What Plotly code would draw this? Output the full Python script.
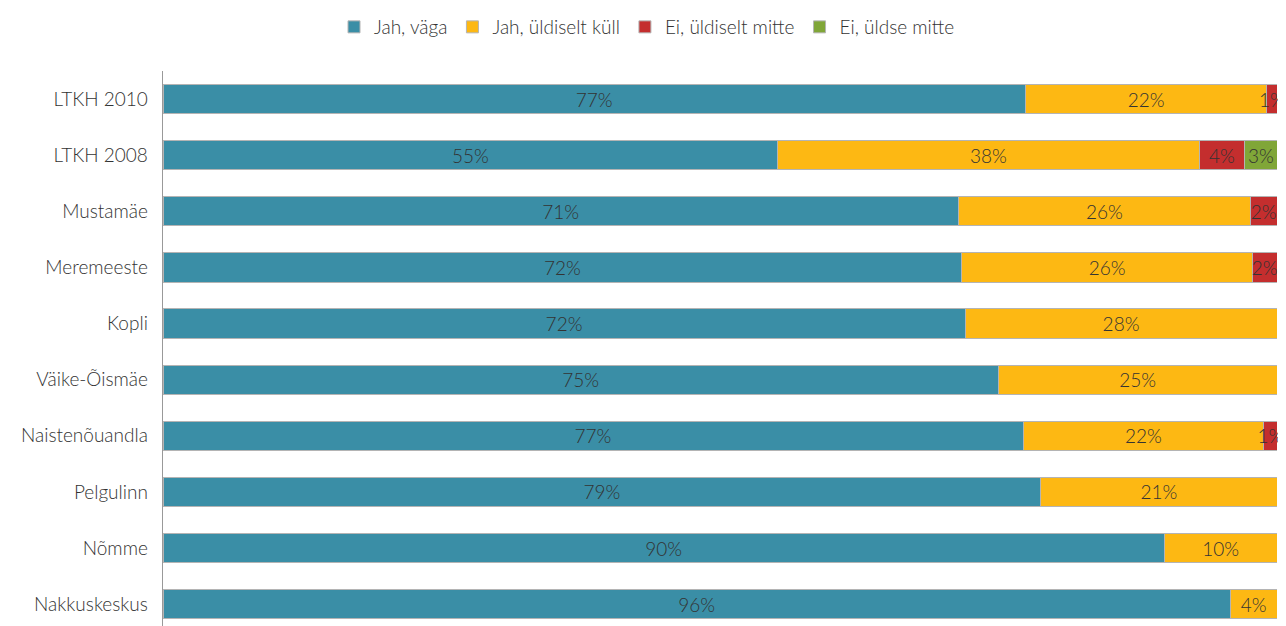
import plotly.graph_objects as go

CATEGORIES = [
    "LTKH 2010", "LTKH 2008", "Mustamäe", "Meremeeste", "Kopli",
    "Väike-Õismäe", "Naistenõuandla", "Pelgulinn", "Nõmme", "Nakkuskeskus",
]
JAH_VAGA = [0.774, 0.552, 0.714, 0.717, 0.720, 0.750, 0.772, 0.788, 0.899, 0.958]
JAH_ULDISELT = [0.217, 0.378, 0.262, 0.261, 0.280, 0.250, 0.216, 0.212, 0.101, 0.042]
EI_ULDISELT = [0.009, 0.041, 0.024, 0.022, None, None, 0.012, None, None, None]
EI_ULDSE = [None, 0.029, None, None, None, None, None, None, None, None]

SERIES = [
    ("Jah, väga", JAH_VAGA, "#3a8ea6"),
    ("Jah, üldiselt küll", JAH_ULDISELT, "#fdb813"),
    ("Ei, üldiselt mitte", EI_ULDISELT, "#c42e2e"),
    ("Ei, üldse mitte", EI_ULDSE, "#80a638"),
]

FONT = "Lato"
TEXT_COLOR = "#333333"

fig = go.Figure()
for name, vals, color in SERIES:
    fig.add_trace(
        go.Bar(
            y=CATEGORIES,
            x=vals,
            name=name,
            orientation="h",
            marker=dict(color=color, line=dict(color="#b4b4b4", width=1)),
            texttemplate="%{x:.0%}",
            textposition="inside",
            insidetextanchor="middle",
            textangle=0,
            constraintext="none",
            cliponaxis=False,
            textfont=dict(family=FONT, size=19, color=TEXT_COLOR, weight=300),
            hoverinfo="skip",
        )
    )

# page has an 8px body margin, so the figure is offset by 8px
fig.update_layout(
    barmode="stack",
    bargap=0.48,
    width=1278,
    height=618,
    margin=dict(l=155, r=9, t=63, b=0),
    plot_bgcolor="white",
    paper_bgcolor="white",
    font=dict(family=FONT, size=19, color=TEXT_COLOR, weight=300),
    legend=dict(
        orientation="h",
        x=0.5,
        xanchor="center",
        xref="container",
        y=1.0,
        yanchor="top",
        yref="container",
        font=dict(family=FONT, size=19, color=TEXT_COLOR, weight=300),
        traceorder="normal",
        itemwidth=30,
    ),
    xaxis=dict(range=[0, 1], visible=False, fixedrange=True),
    yaxis=dict(
        categoryorder="array",
        categoryarray=CATEGORIES,
        range=[9.39, -0.5],
        showline=True,
        linecolor="#999999",
        linewidth=1,
        ticks="",
        ticksuffix="  ",
        showgrid=False,
        tickfont=dict(family=FONT, size=19, color=TEXT_COLOR, weight=300),
    ),
)

fig.write_html("out.html")
